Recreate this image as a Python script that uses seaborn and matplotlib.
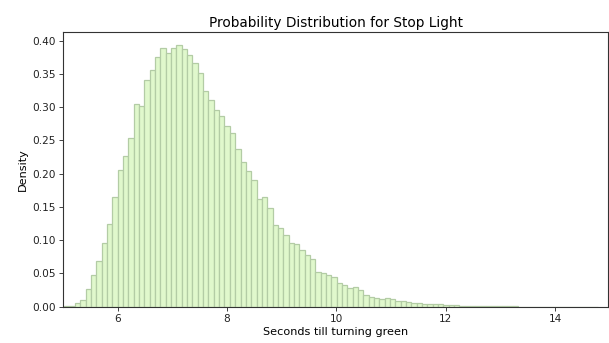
import numpy as np
import pandas as pd
import matplotlib
matplotlib.use("Agg")
import matplotlib.pyplot as plt
import seaborn as sns

# --- data (density per bin) ---
bin_start = 5.03
bin_width = 0.0975
density = [
    0.0003, 0.0015, 0.005, 0.010, 0.027, 0.048, 0.069, 0.096, 0.124, 0.165,
    0.206, 0.226, 0.254, 0.304, 0.302, 0.341, 0.356, 0.375, 0.389, 0.382,
    0.389, 0.393, 0.388, 0.378, 0.366, 0.351, 0.324, 0.311, 0.295, 0.286,
    0.272, 0.261, 0.237, 0.218, 0.204, 0.191, 0.162, 0.165, 0.148, 0.123,
    0.119, 0.108, 0.096, 0.094, 0.085, 0.078, 0.072, 0.052, 0.050, 0.048,
    0.044, 0.036, 0.033, 0.028, 0.029, 0.025, 0.018, 0.015, 0.013, 0.0116,
    0.013, 0.012, 0.009, 0.009, 0.007, 0.006, 0.005, 0.0045, 0.004, 0.0035,
    0.0035, 0.002, 0.002, 0.002, 0.001, 0.0015, 0.001, 0.0008, 0.0015, 0.0015,
    0.0005, 0.0005, 0.0008, 0.0012, 0.0005, 0.0002, 0.0, 0.0, 0.0, 0.0,
    0.0, 0.0, 0.0, 0.0, 0.0, 0.0, 0.0, 0.0, 0.0, 0.0002,
]
title = "Probability Distribution for Stop Light"
xlabel = "Seconds till turning green"
ylabel = "Density"

edges = bin_start + bin_width * np.arange(len(density) + 1)
df = pd.DataFrame({
    "seconds": (edges[:-1] + edges[1:]) / 2,
    "density": density,
})

fig = plt.figure(figsize=(6.09, 3.43), dpi=100)
ax = fig.add_axes([0.104, 0.106, 0.895, 0.8])

# weights already hold the density, so a plain weighted count gives the heights
sns.histplot(data=df, x="seconds", weights="density", bins=edges.tolist(),
             stat="count", color="#e0f8cc", edgecolor="#b3cca5", linewidth=0.9,
             alpha=1, ax=ax)

ax.set_xlim(5.01, 14.97)
ax.set_xticks([6, 8, 10, 12, 14])
ax.set_yticks(np.arange(0, 0.41, 0.05))
ax.yaxis.set_major_formatter(matplotlib.ticker.FormatStrFormatter("%.2f"))

ax.set_title(title, fontsize=9.8, pad=4)
ax.set_xlabel(xlabel, fontsize=8.1, labelpad=2.5)
ax.set_ylabel(ylabel, fontsize=8.1, labelpad=3)
ax.tick_params(labelsize=7.6, length=2.8, width=0.6, pad=2.5, colors="#222222")
for s in ax.spines.values():
    s.set_linewidth(0.8)
    s.set_color("#333333")

fig.savefig("out.png", dpi=100)
